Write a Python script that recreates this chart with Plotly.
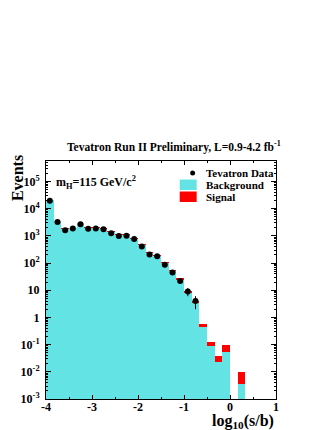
import plotly.graph_objects as go

# ---- data ----
bin_lo = -4.0
bin_w = 1.0 / 6.0
n_bins = 30
bin_centers = [bin_lo + (i + 0.5) * bin_w for i in range(n_bins)]

background = [21000, 3600, 1780, 2000, 2900, 2000, 2000, 1900, 1400, 1120,
              1120, 800, 470, 235, 195, 107, 52, 24, 7.9, 3.47,
              0.457, 0.087, 0.0234, 0.0537, None, 0.0037, None, None, None, None]
signal = [1.0, 0.8, 0.8, 1.0, 1.2, 1.2, 1.3, 1.4, 1.4, 1.5,
          1.6, 1.6, 1.5, 1.6, 1.8, 1.7, 2.0, 2.3, 1.2, 0.6,
          0.093, 0.033, 0.0155, 0.040, None, 0.0058, None, None, None, None]
data = [19500, 3200, 1600, 1850, 2650, 1800, 1850, 1750, 1250, 980,
        1000, 760, 400, 205, 178, 87, 45, 22, 9, 4]
data_err = [140, 57, 40, 43, 51, 42, 43, 42, 35, 31,
            32, 28, 20, 14, 13, 9.3, 6.7, 4.7, 3, 2]
data_x = bin_centers[:len(data)]

y_tickvals = [1e-3, 1e-2, 1e-1, 1, 10, 1e2, 1e3, 1e4, 1e5]
y_ticktext = ["10<sup>-3</sup>", "10<sup>-2</sup>", "10<sup>-1</sup>", "1", "10",
              "10<sup>2</sup>", "10<sup>3</sup>", "10<sup>4</sup>", "10<sup>5</sup>"]
y_minor = [m * 10.0 ** e for e in range(-3, 6) for m in range(2, 10)]
x_tickvals = [-4, -3, -2, -1, 0, 1]
x_ticktext = ["-4", "-3", "-2", "-1", "0", "1"]

CYAN = "#63E3E3"
RED = "#FF0000"
FONT = "Liberation Serif"

fig = go.Figure()
fig.add_trace(go.Bar(x=bin_centers, y=background, width=bin_w,
                     marker=dict(color=CYAN, line=dict(width=0)), name="Background"))
fig.add_trace(go.Bar(x=bin_centers, y=signal, width=bin_w,
                     marker=dict(color=RED, line=dict(width=0)), name="Signal"))
fig.add_trace(go.Scatter(x=data_x, y=data, mode="markers", name="Tevatron Data",
                         marker=dict(color="black", size=6),
                         error_y=dict(type="data", array=data_err, color="black",
                                      thickness=1, width=0)))

# page body has an 8px margin; figure is laid out in page pixels minus that offset
OFF = 8
W, H = 332 - OFF, 430 - OFF
L, T = 46 - OFF, 161 - OFF
R = W - (276.5 - OFF)
B = H - (399 - OFF)
pw = W - L - R
ph = H - T - B


def px(xp):
    return (xp - OFF - L) / pw


def py(yp):
    return (H - B - (yp - OFF)) / ph


fig.update_layout(
    width=W, height=H,
    margin=dict(l=L, r=R, t=T, b=B, pad=0, autoexpand=False),
    paper_bgcolor="white", plot_bgcolor="white",
    barmode="stack", bargap=0, showlegend=False,
    font=dict(family=FONT, color="black"),
)
fig.update_xaxes(range=[-4, 1], tickvals=x_tickvals, ticktext=x_ticktext,
                 ticks="inside", ticklen=4, tickcolor="black", showline=True,
                 linecolor="black", linewidth=1, mirror="ticks", showgrid=False,
                 zeroline=False, automargin=False, ticklabelstandoff=-3,
                 tickfont=dict(family=FONT, size=12, weight="bold"),
                 minor=dict(tickvals=[-3.5, -2.5, -1.5, -0.5, 0.5], ticks="inside",
                            ticklen=2, tickcolor="black", showgrid=False))
fig.update_yaxes(type="log", range=[-3, 5.75], tickvals=y_tickvals, ticktext=y_ticktext,
                 ticks="inside", ticklen=5, tickcolor="black", showline=True,
                 linecolor="black", linewidth=1, mirror="ticks", showgrid=False,
                 zeroline=False, ticklabelstandoff=3, automargin=False,
                 tickfont=dict(family=FONT, size=12, weight="bold"),
                 minor=dict(tickvals=y_minor, ticks="inside", ticklen=2,
                            tickcolor="black", showgrid=False))

ann = []
ann.append(dict(text="Tevatron Run II Preliminary, L=0.9-4.2 fb<sup>-1</sup>",
                x=px(174), y=py(146), xref="paper", yref="paper", showarrow=False,
                xanchor="center", yanchor="middle",
                font=dict(family=FONT, size=11.5, weight="bold")))
ann.append(dict(text="Events", x=px(17), y=py(178), xref="paper", yref="paper",
                showarrow=False, textangle=-90, xanchor="center", yanchor="middle",
                font=dict(family=FONT, size=16, weight="bold")))
ann.append(dict(text="log<sub>10</sub>(s/b)", x=px(277), y=py(421), xref="paper",
                yref="paper", showarrow=False, xanchor="right", yanchor="middle",
                font=dict(family=FONT, size=16, weight="bold")))
ann.append(dict(text="m<sub>H</sub>=115 GeV/c<sup>2</sup>", x=px(54), y=py(182),
                xref="paper", yref="paper", showarrow=False, xanchor="left",
                yanchor="middle", font=dict(family=FONT, size=12, weight="bold")))
for label, yy in [("Tevatron Data", 173), ("Background", 185), ("Signal", 197)]:
    ann.append(dict(text=label, x=px(204), y=py(yy), xref="paper", yref="paper",
                    showarrow=False, xanchor="left", yanchor="middle",
                    font=dict(family=FONT, size=11, weight="bold")))
fig.update_layout(annotations=ann)

shapes = []
shapes.append(dict(type="circle", xref="paper", yref="paper",
                   x0=px(190.5), x1=px(195.5), y0=py(175.5), y1=py(170.5),
                   fillcolor="black", line=dict(width=0)))
shapes.append(dict(type="rect", xref="paper", yref="paper",
                   x0=px(180), x1=px(197), y0=py(190), y1=py(179.5),
                   fillcolor=CYAN, line=dict(width=0)))
shapes.append(dict(type="rect", xref="paper", yref="paper",
                   x0=px(180), x1=px(197), y0=py(202), y1=py(191.5),
                   fillcolor=RED, line=dict(width=0)))
fig.update_layout(shapes=shapes)

fig.write_html("out.html")
